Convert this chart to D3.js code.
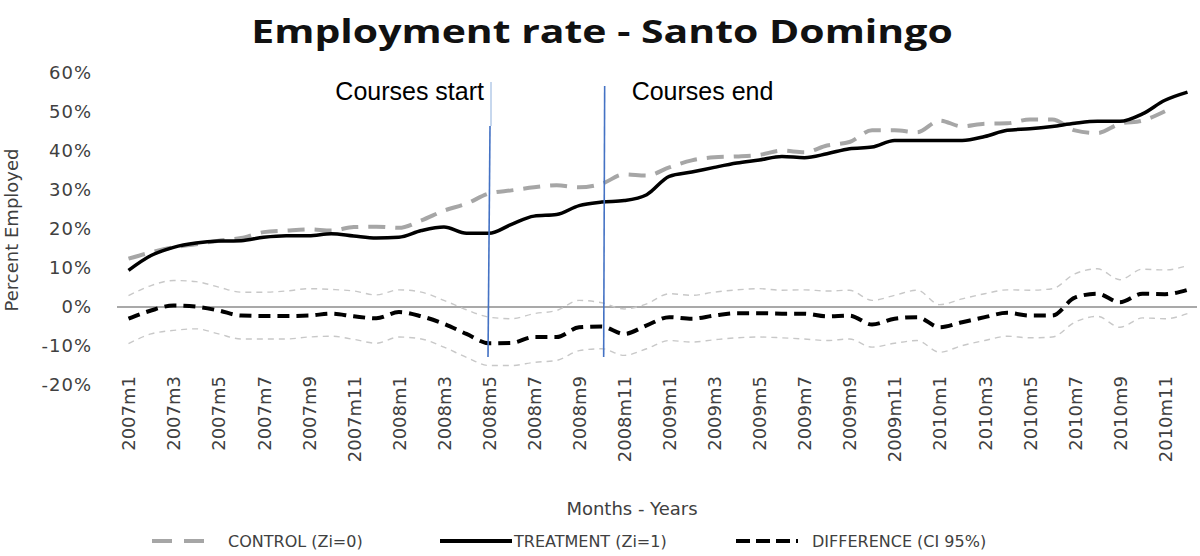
<!DOCTYPE html>
<html>
<head>
  <script src="https://d3js.org/d3.v7.min.js"></script>
  <style>
    body { margin: 0; background: #fff; }
    svg text { font-family: "DejaVu Sans", Verdana, sans-serif; }
  </style>
</head>
<body>
<div id="chart"></div>
<script>
// months 2007m1 .. 2010m12
var years = [2007, 2008, 2009, 2010];
var months = [];
years.forEach(function (yr) {
  for (var m = 1; m <= 12; m++) months.push(yr + "m" + m);
});

// every second month is labelled
var tickLabels = months.filter(function (d, i) { return i % 2 === 0; });

var yTicks = [-20, -10, 0, 10, 20, 30, 40, 50, 60];

// values, in percent
var control = [12.4, 14.0, 15.3, 16.1, 17.0, 17.7, 19.2, 19.6, 19.9, 19.6, 20.5, 20.6,
               20.3, 22.2, 24.7, 26.5, 29.1, 29.9, 30.7, 31.2, 30.7, 31.6, 34.0, 33.7,
               35.8, 37.6, 38.4, 38.6, 39.0, 40.1, 39.7, 41.4, 42.3, 45.3, 45.3, 44.8,
               47.8, 46.3, 47.0, 47.1, 48.1, 48.1, 45.3, 44.6, 47.0, 47.8, 50.2, null];

var treatment = [9.4, 13.2, 15.3, 16.4, 16.9, 17.0, 17.9, 18.3, 18.3, 18.8, 18.2, 17.7,
                 17.9, 19.6, 20.5, 18.9, 18.9, 21.2, 23.3, 23.7, 26.0, 26.9, 27.3, 28.8,
                 33.5, 34.6, 35.8, 36.9, 37.7, 38.6, 38.3, 39.3, 40.6, 41.0, 42.7, 42.7,
                 42.7, 42.7, 43.7, 45.3, 45.7, 46.3, 47.1, 47.6, 47.6, 49.5, 53.0, 55.1];

var difference = [-3.0, -0.9, 0.4, 0.1, -0.9, -2.2, -2.3, -2.3, -2.2, -1.7, -2.4, -2.9,
                  -1.3, -2.4, -4.3, -6.9, -9.3, -9.2, -7.7, -7.7, -5.2, -5.0, -6.9, -4.7,
                  -2.6, -3.0, -2.2, -1.6, -1.6, -1.7, -1.7, -2.4, -2.2, -4.5, -3.0, -2.6,
                  -5.2, -3.9, -2.6, -1.5, -2.2, -2.2, 2.4, 3.4, 1.2, 3.4, 3.3, 4.4];

var ciUpper = [2.9, 5.5, 6.8, 6.5, 5.1, 3.8, 3.8, 4.1, 4.7, 4.5, 4.1, 3.1,
               4.4, 3.8, 1.7, -0.7, -2.6, -3.0, -1.7, -0.9, 1.7, 1.1, -0.5, 0.8,
               3.4, 3.0, 3.8, 4.4, 4.7, 4.3, 4.4, 4.1, 4.3, 1.7, 3.0, 4.3,
               0.6, 2.1, 3.4, 4.4, 4.3, 4.7, 8.5, 9.8, 7.0, 9.7, 9.5, 10.6];

var ciLower = [-9.4, -6.9, -6.0, -5.6, -6.9, -8.2, -8.2, -8.2, -7.7, -7.5, -8.3, -9.3,
               -7.7, -8.2, -10.3, -12.9, -15.0, -15.0, -14.2, -13.7, -11.2, -10.7, -12.4, -10.7,
               -8.6, -9.0, -8.4, -7.9, -7.7, -7.9, -8.2, -8.6, -8.2, -10.3, -9.3, -8.6,
               -11.6, -9.9, -8.6, -7.5, -7.9, -7.7, -3.9, -2.4, -5.2, -2.8, -3.0, -1.7];

var courseStart = "2008m5";
var courseEnd = "2008m10";

var width = 1200, height = 556;

var svg = d3.select("#chart").append("svg")
  .attr("width", width)
  .attr("height", height);

var x = d3.scalePoint().domain(months).range([128.5, 1187.5]);
var y = d3.scaleLinear().domain([-20, 60]).range([385, 73]);

// title (the original picture is stretched sideways)
svg.append("text")
  .attr("transform", "translate(602,43) scale(1.28,1)")
  .attr("text-anchor", "middle")
  .style("font-family", "'Open Sans', sans-serif")
  .style("font-weight", "bold")
  .style("font-size", "32px")
  .style("fill", "#111")
  .text("Employment rate - Santo Domingo");

// y axis labels (no axis line in the original)
var yAxis = svg.append("g")
  .attr("transform", "translate(92,0)")
  .call(d3.axisLeft(y).tickValues(yTicks).tickSize(0).tickPadding(0)
    .tickFormat(function (d) { return d + "%"; }));
yAxis.select(".domain").remove();
yAxis.selectAll("text")
  .style("font-size", "18px")
  .style("letter-spacing", "1px")
  .style("font-family", "'DejaVu Sans', sans-serif")
  .style("fill", "#404040");

// x axis labels, vertical
var xAxis = svg.append("g")
  .attr("transform", "translate(0,376)")
  .call(d3.axisBottom(x).tickValues(tickLabels).tickSize(0).tickPadding(0));
xAxis.select(".domain").remove();
xAxis.selectAll("text")
  .attr("transform", "rotate(-90)")
  .attr("x", 0)
  .attr("y", 0)
  .attr("dy", "0.35em")
  .attr("text-anchor", "end")
  .style("font-size", "18px")
  .style("font-family", "'DejaVu Sans', sans-serif")
  .style("fill", "#404040");

// axis titles
svg.append("text")
  .attr("transform", "translate(18,230) rotate(-90)")
  .attr("text-anchor", "middle")
  .style("font-size", "18px")
  .style("fill", "#404040")
  .text("Percent Employed");

svg.append("text")
  .attr("x", 632)
  .attr("y", 515)
  .attr("text-anchor", "middle")
  .style("font-size", "18px")
  .style("fill", "#404040")
  .text("Months - Years");

// zero line
svg.append("line")
  .attr("x1", 117).attr("x2", 1197)
  .attr("y1", y(0)).attr("y2", y(0))
  .attr("stroke", "#8c8c8c")
  .attr("stroke-width", 1.5);

var line = d3.line()
  .defined(function (d) { return d != null; })
  .x(function (d, i) { return x(months[i]); })
  .y(function (d) { return y(d); })
  .curve(d3.curveMonotoneX);

// confidence band lines
[ciUpper, ciLower].forEach(function (s) {
  svg.append("path")
    .attr("d", line(s))
    .attr("fill", "none")
    .attr("stroke", "#c8c8c8")
    .attr("stroke-width", 1.4)
    .attr("stroke-dasharray", "6,5");
});

svg.append("path")
  .attr("d", line(control))
  .attr("fill", "none")
  .attr("stroke", "#a6a6a6")
  .attr("stroke-width", 4)
  .attr("stroke-dasharray", "17,10");

svg.append("path")
  .attr("d", line(treatment))
  .attr("fill", "none")
  .attr("stroke", "#000")
  .attr("stroke-width", 3.5);

svg.append("path")
  .attr("d", line(difference))
  .attr("fill", "none")
  .attr("stroke", "#000")
  .attr("stroke-width", 4)
  .attr("stroke-dasharray", "12,7");

// course markers
var xs = x(courseStart);
svg.append("line")
  .attr("x1", xs + 2).attr("x2", xs + 2)
  .attr("y1", 82).attr("y2", 126)
  .attr("stroke", "#8fb0dc").attr("stroke-width", 1);
svg.append("line")
  .attr("x1", xs + 1).attr("x2", xs - 1)
  .attr("y1", 126).attr("y2", 357)
  .attr("stroke", "#4472c4").attr("stroke-width", 1.6);

var xe = x(courseEnd) + 2;
svg.append("line")
  .attr("x1", xe + 1).attr("x2", xe)
  .attr("y1", 86).attr("y2", 357)
  .attr("stroke", "#4472c4").attr("stroke-width", 1.6);

svg.append("text")
  .attr("x", xs - 5).attr("y", 100)
  .attr("text-anchor", "end")
  .style("font-family", "'Liberation Sans', Arial, sans-serif")
  .style("font-size", "25px")
  .text("Courses start");

svg.append("text")
  .attr("x", xe + 28).attr("y", 100)
  .style("font-family", "'Liberation Sans', Arial, sans-serif")
  .style("font-size", "25px")
  .text("Courses end");

// legend
var legend = [
  { name: "CONTROL (Zi=0)", x: 152, stroke: "#a6a6a6", dash: "20,12", w: 4 },
  { name: "TREATMENT (Zi=1)", x: 440, stroke: "#000", dash: null, w: 4 },
  { name: "DIFFERENCE (CI 95%)", x: 736, stroke: "#000", dash: "14,6", w: 4 }
];
var lg = svg.selectAll(".lg").data(legend).enter().append("g")
  .attr("transform", function (d) { return "translate(" + d.x + ",541)"; });
lg.append("line")
  .attr("x1", 0).attr("x2", function (d) { return d.dash ? 62 : 72; })
  .attr("stroke", function (d) { return d.stroke; })
  .attr("stroke-width", function (d) { return d.w; })
  .attr("stroke-dasharray", function (d) { return d.dash; });
lg.append("text")
  .attr("x", function (d) { return d.dash ? 76 : 74; })
  .attr("dy", "0.35em")
  .style("font-size", "16px")
  .style("fill", "#404040")
  .text(function (d) { return d.name; });
</script>
</body>
</html>
